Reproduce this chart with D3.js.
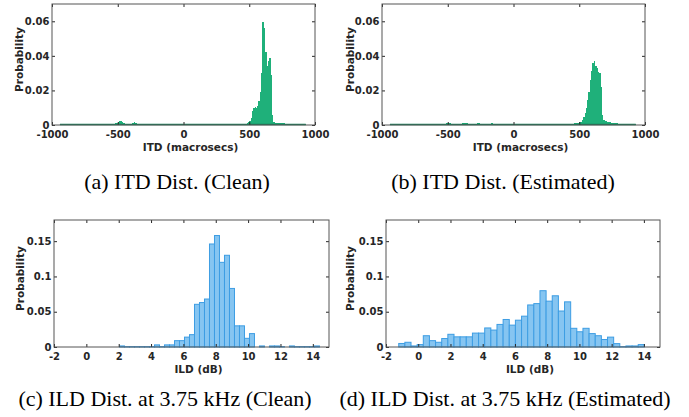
<!DOCTYPE html>
<html>
<head>
<meta charset="utf-8">
<script src="https://cdn.jsdelivr.net/npm/d3@7"></script>
<style>
    body { margin: 0; background: #fff; }
    svg { display: block; }
    .tick text { font-family: "DejaVu Sans", Verdana, sans-serif; font-weight: bold; font-size: 10px; fill: #262626; }
    .axis-label { font-family: "DejaVu Sans", Verdana, sans-serif; font-weight: bold; font-size: 10.5px; fill: #262626; }
    .caption { font-family: "Liberation Serif", "Times New Roman", serif; font-size: 22px; fill: #000; }
</style>
</head>
<body>
<div id="chart"></div>
<script>
// ITD histograms: bins of 10 macrosecs from -1000 to 1000
var itdBinStart = -1000;
var itdBinWidth = 10;
var itdClean = [
    0, 0, 0, 0, 0, 0, 0.0003, 0.0003, 0.0004, 0.0003,
    0.0003, 0.0004, 0.0003, 0.0003, 0.0004, 0.0003, 0.0003, 0.0004, 0.0003, 0.0003,
    0.0004, 0.0003, 0.0003, 0.0004, 0.0003, 0.0003, 0.0004, 0.0003, 0.0004, 0.0003,
    0.0003, 0.0004, 0.0003, 0.0003, 0.0005, 0.0004, 0.0003, 0.0004, 0.0004, 0.0005,
    0.0004, 0.0005, 0.0004, 0.0005, 0.0006, 0.0005, 0.0006, 0.0008, 0.0010, 0.0012,
    0.0018, 0.0025, 0.0022, 0.0015, 0.0009, 0.0006, 0.0005, 0.0005, 0.0004, 0.0005,
    0.0008, 0.0012, 0.0015, 0.0012, 0.0007, 0.0005, 0.0004, 0.0004, 0.0003, 0.0004,
    0.0004, 0.0005, 0.0006, 0.0007, 0.0006, 0.0005, 0.0004, 0.0003, 0.0004, 0.0003,
    0.0003, 0.0004, 0.0003, 0.0004, 0.0004, 0.0003, 0.0004, 0.0004, 0.0006, 0.0005,
    0.0004, 0.0003, 0.0004, 0.0003, 0.0003, 0.0004, 0.0003, 0.0003, 0.0004, 0.0003,
    0.0003, 0.0004, 0.0003, 0.0003, 0.0004, 0.0003, 0.0003, 0.0004, 0.0003, 0.0003,
    0.0003, 0.0003, 0.0004, 0.0003, 0.0003, 0.0004, 0.0003, 0.0003, 0.0003, 0.0004,
    0.0003, 0.0004, 0.0003, 0.0003, 0.0003, 0.0004, 0.0003, 0.0004, 0.0003, 0.0003,
    0.0004, 0.0003, 0.0003, 0.0004, 0.0003, 0.0003, 0.0004, 0.0003, 0.0003, 0.0004,
    0.0003, 0.0004, 0.0004, 0.0005, 0.0005, 0.0006, 0.0007, 0.0008, 0.0010, 0.0015,
    0.0025, 0.0040, 0.0080, 0.0100, 0.0105, 0.0100, 0.0110, 0.0140, 0.0190, 0.0300,
    0.0595, 0.0560, 0.0420, 0.0340, 0.0370, 0.0385, 0.0290, 0.0060, 0.0020, 0.0014,
    0.0013, 0.0012, 0.0012, 0.0011, 0.0010, 0.0010, 0.0009, 0.0008, 0.0008, 0.0007,
    0.0006, 0.0006, 0.0005, 0.0005, 0.0005, 0.0004, 0.0004, 0.0004, 0.0004, 0.0004,
    0.0004, 0.0003, 0.0003, 0, 0, 0, 0, 0, 0, 0
];
var itdEstimated = [
    0, 0, 0, 0, 0, 0, 0.0003, 0.0003, 0.0003, 0.0004,
    0.0003, 0.0003, 0.0004, 0.0003, 0.0003, 0.0004, 0.0003, 0.0003, 0.0003, 0.0004,
    0.0003, 0.0004, 0.0003, 0.0003, 0.0004, 0.0003, 0.0004, 0.0003, 0.0003, 0.0004,
    0.0004, 0.0003, 0.0004, 0.0004, 0.0003, 0.0004, 0.0004, 0.0003, 0.0004, 0.0004,
    0.0004, 0.0004, 0.0005, 0.0004, 0.0005, 0.0005, 0.0006, 0.0006, 0.0008, 0.0010,
    0.0012, 0.0010, 0.0007, 0.0005, 0.0004, 0.0005, 0.0004, 0.0005, 0.0005, 0.0006,
    0.0007, 0.0009, 0.0011, 0.0012, 0.0010, 0.0007, 0.0005, 0.0004, 0.0005, 0.0005,
    0.0006, 0.0008, 0.0010, 0.0009, 0.0007, 0.0005, 0.0005, 0.0004, 0.0004, 0.0005,
    0.0005, 0.0006, 0.0008, 0.0009, 0.0008, 0.0006, 0.0005, 0.0004, 0.0004, 0.0005,
    0.0004, 0.0004, 0.0005, 0.0004, 0.0004, 0.0005, 0.0004, 0.0004, 0.0005, 0.0004,
    0.0004, 0.0005, 0.0004, 0.0004, 0.0004, 0.0005, 0.0004, 0.0004, 0.0005, 0.0004,
    0.0004, 0.0004, 0.0005, 0.0004, 0.0004, 0.0004, 0.0005, 0.0004, 0.0004, 0.0005,
    0.0004, 0.0005, 0.0004, 0.0004, 0.0005, 0.0004, 0.0005, 0.0004, 0.0005, 0.0004,
    0.0005, 0.0004, 0.0005, 0.0005, 0.0004, 0.0005, 0.0005, 0.0004, 0.0005, 0.0005,
    0.0005, 0.0005, 0.0006, 0.0006, 0.0007, 0.0008, 0.0009, 0.0010, 0.0012, 0.0014,
    0.0015, 0.0020, 0.0028, 0.0048, 0.0070, 0.0100, 0.0144, 0.0190, 0.0260, 0.0310,
    0.0360, 0.0369, 0.0340, 0.0330, 0.0305, 0.0300, 0.0220, 0.0060, 0.0030, 0.0024,
    0.0022, 0.0019, 0.0017, 0.0015, 0.0013, 0.0012, 0.0011, 0.0010, 0.0009, 0.0008,
    0.0007, 0.0007, 0.0006, 0.0006, 0.0005, 0.0005, 0.0005, 0.0004, 0.0004, 0.0004,
    0.0004, 0.0003, 0.0003, 0, 0, 0, 0, 0, 0, 0
];
var itdXTicks = [-1000, -500, 0, 500, 1000];
var itdYTicks = [0, 0.02, 0.04, 0.06];
var itdYTickLabels = ["0", "0.02", "0.04", "0.06"];

// ILD histograms at 3.75 kHz
var ildCleanStart = 2.05;
var ildCleanWidth = 0.309;
var ildClean = [
    0.0015, 0.0005, 0.0005, 0.0005, 0.0005, 0.0005, 0.0005, 0.003, 0.0005, 0.003,
    0.003, 0.009, 0.009, 0.014, 0.0175, 0.0605, 0.063, 0.068, 0.146, 0.158,
    0.12, 0.13, 0.083, 0.030, 0.030, 0.0123, 0.019, 0, 0.0015, 0,
    0.0015, 0.0015, 0.0005, 0, 0.0015, 0.0005, 0.0005, 0.0005, 0.0005, 0.0015
];
var ildEstStart = -1.21;
var ildEstWidth = 0.381;
var ildEstimated = [
    0.005, 0.0067, 0.0015, 0.0034, 0.016, 0.009, 0.0067, 0.012, 0.018, 0.0144,
    0.0144, 0.0144, 0.0197, 0.0197, 0.027, 0.024, 0.032, 0.039, 0.031, 0.038,
    0.0437, 0.0596, 0.0615, 0.0798, 0.065, 0.0726, 0.051, 0.064, 0.0265, 0.0216,
    0.0265, 0.019, 0.016, 0.0106, 0.014, 0.0048, 0.0005, 0.0015, 0.0015, 0.0034
];
var ildXTicks = [-2, 0, 2, 4, 6, 8, 10, 12, 14];
var ildYTicks = [0, 0.05, 0.1, 0.15];
var ildYTickLabels = ["0", "0.05", "0.1", "0.15"];

var captions = [
    { text: "(a) ITD Dist. (Clean)", x: 177, y: 189 },
    { text: "(b) ITD Dist. (Estimated)", x: 503, y: 189 },
    { text: "(c) ILD Dist. at 3.75 kHz (Clean)", x: 165, y: 406 },
    { text: "(d) ILD Dist. at 3.75 kHz (Estimated)", x: 505, y: 406 }
];

var svg = d3.select("#chart")
    .append("svg")
    .attr("width", 689)
    .attr("height", 417);

function drawHistogram(values, binStart, binWidth, chartSettings) {
    var box = chartSettings.box;
    var g = svg.append("g");

    var x = d3.scaleLinear()
        .domain(chartSettings.xDomain)
        .range([box.left, box.right]);
    var y = d3.scaleLinear()
        .domain(chartSettings.yDomain)
        .range([box.bottom, box.top]);

    var bins = values
        .map((v, i) => ({ x0: binStart + i * binWidth, x1: binStart + (i + 1) * binWidth, v: v }))
        .filter(d => d.v > 0);

    // Bars
    var bars = g.selectAll("rect.bar")
        .data(bins)
        .enter()
        .append("rect")
        .attr("class", "bar")
        .attr("x", d => x(d.x0))
        .attr("y", d => y(d.v))
        .attr("height", d => y(0) - y(d.v))
        .attr("fill", chartSettings.barColor);

    if (chartSettings.edgeColor) {
        bars.attr("width", d => x(d.x1) - x(d.x0))
            .attr("stroke", chartSettings.edgeColor)
            .attr("stroke-width", 1);
    } else {
        bars.attr("width", d => x(d.x1) - x(d.x0) + 0.4)
            .attr("shape-rendering", "crispEdges");
        // dark baseline under the thin bins
        g.append("line")
            .attr("x1", x(bins[0].x0))
            .attr("x2", x(bins[bins.length - 1].x1))
            .attr("y1", y(0) - 0.5)
            .attr("y2", y(0) - 0.5)
            .attr("stroke", chartSettings.baseColor)
            .attr("stroke-width", 1.5);
    }

    // Axes with inward ticks on all four sides
    g.append("g")
        .attr("transform", "translate(0," + box.bottom + ")")
        .call(d3.axisBottom(x).tickValues(chartSettings.xTicks).tickFormat(d => String(d))
            .tickSizeInner(-3).tickSizeOuter(0).tickPadding(5.5));
    g.append("g")
        .attr("transform", "translate(0," + box.top + ")")
        .call(d3.axisTop(x).tickValues(chartSettings.xTicks).tickFormat("")
            .tickSizeInner(-3).tickSizeOuter(0));
    g.append("g")
        .attr("transform", "translate(" + box.left + ",0)")
        .call(d3.axisLeft(y).tickValues(chartSettings.yTicks).tickFormat((d, i) => chartSettings.yTickLabels[i])
            .tickSizeInner(-3).tickSizeOuter(0).tickPadding(2.5));
    g.append("g")
        .attr("transform", "translate(" + box.right + ",0)")
        .call(d3.axisRight(y).tickValues(chartSettings.yTicks).tickFormat("")
            .tickSizeInner(-3).tickSizeOuter(0));

    g.selectAll(".domain").remove();
    g.selectAll(".tick line").attr("stroke", "#262626");

    g.append("rect")
        .attr("x", box.left)
        .attr("y", box.top)
        .attr("width", box.right - box.left)
        .attr("height", box.bottom - box.top)
        .attr("fill", "none")
        .attr("stroke", "#555")
        .attr("stroke-width", 1);

    g.append("text")
        .attr("class", "axis-label")
        .attr("text-anchor", "middle")
        .attr("x", (box.left + box.right) / 2 + 7)
        .attr("y", box.bottom + 26)
        .text(chartSettings.xLabel);

    g.append("text")
        .attr("class", "axis-label")
        .attr("text-anchor", "middle")
        .attr("transform", "translate(" + chartSettings.yLabelX + "," + ((box.top + box.bottom) / 2 - 5) + ") rotate(-90)")
        .attr("dy", "0.35em")
        .text("Probability");
}

var itdSettings = {
    xDomain: [-1000, 1000],
    yDomain: [0, 0.07],
    xTicks: itdXTicks,
    yTicks: itdYTicks,
    yTickLabels: itdYTickLabels,
    barColor: "#1fb07a",
    baseColor: "#16805a",
    xLabel: "ITD (macrosecs)"
};
var ildSettings = {
    xDomain: [-2, 15],
    yDomain: [0, 0.18],
    xTicks: ildXTicks,
    yTicks: ildYTicks,
    yTickLabels: ildYTickLabels,
    barColor: "#86c5f1",
    edgeColor: "#3d9de3",
    xLabel: "ILD (dB)"
};

drawHistogram(itdClean, itdBinStart, itdBinWidth,
    Object.assign({}, itdSettings, { box: { left: 52, right: 315, top: 4, bottom: 125 }, yLabelX: 19 }));
drawHistogram(itdEstimated, itdBinStart, itdBinWidth,
    Object.assign({}, itdSettings, { box: { left: 382, right: 645, top: 4, bottom: 125 }, yLabelX: 350 }));
drawHistogram(ildClean, ildCleanStart, ildCleanWidth,
    Object.assign({}, ildSettings, { box: { left: 54, right: 329, top: 220, bottom: 347 }, yLabelX: 20 }));
drawHistogram(ildEstimated, ildEstStart, ildEstWidth,
    Object.assign({}, ildSettings, { box: { left: 386, right: 660, top: 220, bottom: 347 }, yLabelX: 350 }));

svg.selectAll("text.caption")
    .data(captions)
    .enter()
    .append("text")
    .attr("class", "caption")
    .attr("text-anchor", "middle")
    .attr("x", d => d.x)
    .attr("y", d => d.y)
    .text(d => d.text);
</script>
</body>
</html>
